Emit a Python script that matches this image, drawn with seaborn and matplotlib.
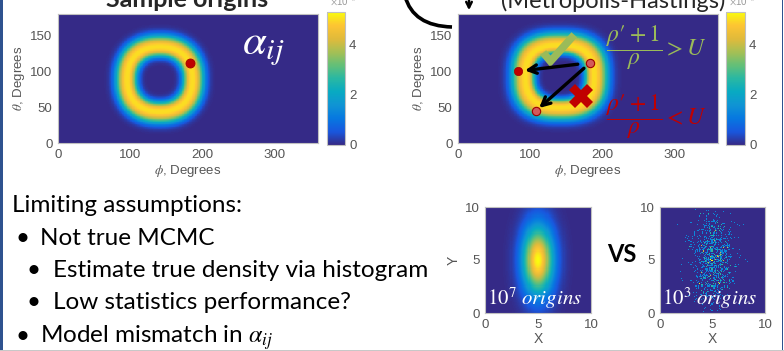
import numpy as np
import matplotlib
matplotlib.use("Agg")
import matplotlib.pyplot as plt
import seaborn as sns
from matplotlib.colors import LinearSegmentedColormap
from matplotlib.patches import FancyArrowPatch, PathPatch, Rectangle
from matplotlib.path import Path

# ---------------- values ----------------
phi_ticks = [0, 100, 200, 300]
theta_ticks = [0, 50, 100, 150]
cbar_ticks = [0, 2, 4]
xy_ticks = [0, 5, 10]
phi_range = 360
theta_range = 180
cbar_max = 5.3            # colour scale top, x 1e-3

# ring-shaped alpha_ij: [phi0, theta0, r_phi, r_theta, w_in, w_out, peak, squareness, profile]
ring_left = [141, 89, 45, 45, 0.30, 0.36, 5.0, 2.3, 2.5]
ring_right = [141, 93, 47, 43, 0.27, 0.42, 5.0, 2.6, 2.5]

origin_left = [183, 112]
mh_phi = [183, 83, 108]
mh_theta = [112, 100, 45]
check_phi = [118, 128, 161]
check_theta = [126, 114, 151]
reject_pt = [170, 65]

# 2-D gaussian density of origins: [x0, y0, sigma_x, sigma_y]
gauss = [5.0, 5.0, 1.0, 2.2]
smooth_bins = 100
n_sparse = 1000
sparse_bins = 100
sparse_vmax = 4

# ---------------- styling ----------------
sns.set_theme(style="white")
plt.rcParams["font.family"] = ["Liberation Sans", "DejaVu Sans"]
plt.rcParams["mathtext.fontset"] = "stix"

parula = LinearSegmentedColormap.from_list("parula", [
    (0.00, (0.2081, 0.1663, 0.5292)),
    (0.10, (0.0961, 0.3416, 0.8698)),
    (0.20, (0.0260, 0.4700, 0.8800)),
    (0.30, (0.0600, 0.5800, 0.8300)),
    (0.40, (0.0300, 0.6650, 0.7600)),
    (0.50, (0.1600, 0.7200, 0.6400)),
    (0.60, (0.3900, 0.7500, 0.4700)),
    (0.70, (0.6500, 0.7500, 0.3300)),
    (0.80, (0.8800, 0.7300, 0.2300)),
    (0.90, (0.9900, 0.7700, 0.2000)),
    (1.00, (0.9763, 0.9831, 0.0538)),
])

TICK_C = "#555555"
SPINE_C = "#c0c0c0"
GREEN = "#9BBB59"
RED = "#C00000"
TICK_FS = 9.5

W, H = 784, 351
fig = plt.figure(figsize=(W / 100, H / 100), dpi=100)
fig.patch.set_facecolor("white")


def box(x0, y0, x1, y1):
    return [x0 / W, 1 - y1 / H, (x1 - x0) / W, (y1 - y0) / H]


def ring(params):
    p0, t0, rp, rt, w_in, w_out, pk, q, prof = params
    phi = np.arange(phi_range) + 0.5
    th = np.arange(theta_range) + 0.5
    P, T = np.meshgrid(phi, th)
    r = (np.abs((P - p0) / rp) ** q + np.abs((T - t0) / rt) ** q) ** (1 / q)
    w = np.where(r < 1, w_in, w_out)
    return pk * np.exp(-(np.abs(r - 1) / w) ** prof)


def style_axes(ax):
    for s in ax.spines.values():
        s.set_visible(True)
        s.set_color(SPINE_C)
        s.set_linewidth(0.8)
    ax.tick_params(direction="in", length=2.5, width=0.6, color="#999999",
                   labelcolor=TICK_C, labelsize=TICK_FS, pad=4,
                   left=True, bottom=True)


def big_panel(rect, crect, params):
    ax = fig.add_axes(box(*rect))
    cax = fig.add_axes(box(*crect))
    sns.heatmap(ring(params), ax=ax, cmap=parula, vmin=0, vmax=cbar_max,
                cbar_ax=cax, xticklabels=False, yticklabels=False)
    ax.set_xlim(0, phi_range)
    ax.set_ylim(0, theta_range)
    ax.set_xticks(phi_ticks)
    ax.set_xticklabels([str(t) for t in phi_ticks], rotation=0)
    ax.set_yticks(theta_ticks)
    ax.set_yticklabels([str(t) for t in theta_ticks], rotation=0)
    style_axes(ax)
    ax.set_xlabel(r"$\phi$, Degrees", fontsize=TICK_FS, color=TICK_C, labelpad=2)
    ax.set_ylabel(r"$\theta$, Degrees", fontsize=TICK_FS, color=TICK_C, labelpad=2)
    cb = ax.collections[0].colorbar
    cb.set_ticks(cbar_ticks)
    cb.set_ticklabels([str(t) for t in cbar_ticks])
    cb.outline.set_visible(True)
    cb.outline.set_edgecolor(SPINE_C)
    cb.outline.set_linewidth(0.8)
    cax.tick_params(direction="in", length=2, width=0.6, color="#777777",
                    labelcolor=TICK_C, labelsize=TICK_FS, pad=3)
    fig.text((crect[0] + 3) / W, 1 - 2 / H, r"$\times$10$^{-3}$", fontsize=7,
             color="#999999", va="center", ha="left")
    return ax


# ---------------- top left: sample origins ----------------
axL = big_panel((58, 14, 318, 143), (327, 12, 345, 145), ring_left)
axL.plot([origin_left[0]], [origin_left[1]], "o", color="#C00000", ms=6.5,
         mec="#A00000", mew=0.6)
axL.text(0.79, 0.74, r"$\alpha_{ij}$", transform=axL.transAxes, color="white",
         fontsize=31, ha="center", va="center")

# ---------------- top right: Metropolis-Hastings ----------------
axR = big_panel((458, 14, 718, 143), (726, 12, 745, 145), ring_right)
axR.plot(check_phi, check_theta, color=GREEN, lw=5.5, solid_capstyle="butt",
         solid_joinstyle="miter")
axR.plot([reject_pt[0]], [reject_pt[1]], marker="X", color=RED, ms=17, mew=0)
for (a, b, sa, sb) in [(0, 1, 9, 5), (0, 2, 6, 3)]:
    axR.annotate("", xy=(mh_phi[b], mh_theta[b]), xytext=(mh_phi[a], mh_theta[a]),
                 arrowprops=dict(arrowstyle="->", lw=2.4, color="black",
                                 shrinkA=sa, shrinkB=sb, mutation_scale=15))
axR.plot([mh_phi[1]], [mh_theta[1]], "o", color="#C00000", ms=6, mec="#A00000", mew=0.5)
axR.plot([mh_phi[0], mh_phi[2]], [mh_theta[0], mh_theta[2]], "o", color="#D25A5A",
         ms=6, mec="#A00000", mew=0.8, ls="none")
NUM = "\u03c1\u2032 + 1"
axR.text(0.762, 0.735, r"$\dfrac{" + NUM + r"}{\rho} > U$", transform=axR.transAxes,
         color=GREEN, fontsize=17, ha="center", va="center")
axR.text(0.762, 0.205, r"$\dfrac{" + NUM + r"}{\rho} < U$", transform=axR.transAxes,
         color=RED, fontsize=17, ha="center", va="center")

# ---------------- bottom right: density comparison ----------------
edges_s = np.linspace(0, 10, smooth_bins + 1)
cs = (edges_s[:-1] + edges_s[1:]) / 2
GX, GY = np.meshgrid(cs, cs)
smooth = np.exp(-0.5 * (((GX - gauss[0]) / gauss[2]) ** 2 + ((GY - gauss[1]) / gauss[3]) ** 2))

rng = np.random.default_rng(3)
sx = rng.normal(gauss[0], gauss[2], n_sparse)
sy = rng.normal(gauss[1], gauss[3], n_sparse)
edges_p = np.linspace(0, 10, sparse_bins + 1)
sparse, _, _ = np.histogram2d(sy, sx, bins=[edges_p, edges_p])


def small_panel(rect, data, nb, vmax, label, ylabel):
    ax = fig.add_axes(box(*rect))
    sns.heatmap(data, ax=ax, cmap=parula, vmin=0, vmax=vmax, cbar=False,
                xticklabels=False, yticklabels=False)
    ax.set_xlim(0, nb)
    ax.set_ylim(0, nb)
    pos = [t / 10 * nb for t in xy_ticks]
    ax.set_xticks(pos)
    ax.set_xticklabels([str(t) for t in xy_ticks], rotation=0)
    ax.set_yticks(pos)
    ax.set_yticklabels([str(t) for t in xy_ticks], rotation=0)
    style_axes(ax)
    ax.set_xlabel("X", fontsize=TICK_FS + 0.5, color=TICK_C, labelpad=1)
    if ylabel:
        ax.set_ylabel("Y", fontsize=TICK_FS + 0.5, color=TICK_C, labelpad=3)
    ax.text(0.47, 0.14, label, transform=ax.transAxes, color="white",
            fontsize=15, ha="center", va="center")
    return ax


small_panel((485, 207, 591, 313), smooth, smooth_bins, 1.0,
            r"$10^{7}\ origins$", True)
small_panel((660, 207, 765, 313), sparse, sparse_bins, sparse_vmax,
            r"$10^{3}\ origins$", False)
fig.text(622 / W, 1 - 255 / H, "VS", family="Lato", weight="bold", fontsize=17,
         ha="center", va="center", color="black")

# ---------------- slide text ----------------
TXT = dict(family="Lato", fontsize=17.5, color="black", va="baseline")
fig.text(187 / W, 1 - 7 / H, "Sample origins", family="Lato", weight="bold",
         fontsize=18, ha="center", va="baseline")
fig.text(613 / W, 1 - 8 / H, "(Metropolis-Hastings)", family="Lato",
         fontsize=17, ha="center", va="baseline")
fig.text(12 / W, 1 - 212 / H, "Limiting assumptions:", **TXT)
fig.text(15 / W, 1 - 245 / H, "\u2022", **TXT)
fig.text(40 / W, 1 - 245 / H, "Not true MCMC", **TXT)
fig.text(27 / W, 1 - 277 / H, "\u2022", **TXT)
fig.text(53 / W, 1 - 277 / H, "Estimate true density via histogram", **TXT)
fig.text(27 / W, 1 - 309 / H, "\u2022", **TXT)
fig.text(53 / W, 1 - 309 / H, "Low statistics performance?", **TXT)
fig.text(15 / W, 1 - 343 / H, "\u2022", **TXT)
fig.text(40 / W, 1 - 343 / H, r"Model mismatch in $\alpha_{ij}$", **TXT)

# curved arrow and down arrow at the top
def fpt(x, y):
    return (x / W, 1 - y / H)

arc = Path([fpt(405, -4), fpt(413, 26), fpt(452, 27)],
           [Path.MOVETO, Path.CURVE3, Path.CURVE3])
fig.add_artist(PathPatch(arc, transform=fig.transFigure, fill=False,
                         lw=2.6, color="black", capstyle="butt"))
fig.add_artist(FancyArrowPatch(fpt(469, -3), fpt(469, 13), transform=fig.transFigure,
                               arrowstyle="->", mutation_scale=10, lw=1.8,
                               color="black"))

# slide frame
fig.add_artist(Rectangle((0, 0), 3 / W, 1, transform=fig.transFigure,
                         color="#2E528F", lw=0))
fig.add_artist(Rectangle((781.5 / W, 0), 1.5 / W, 1, transform=fig.transFigure,
                         color="#2E528F", lw=0))
fig.add_artist(Rectangle((0, 0), 1, 1.5 / H, transform=fig.transFigure,
                         color="#c8c8c8", lw=0))

fig.savefig("out.png", dpi=100)
